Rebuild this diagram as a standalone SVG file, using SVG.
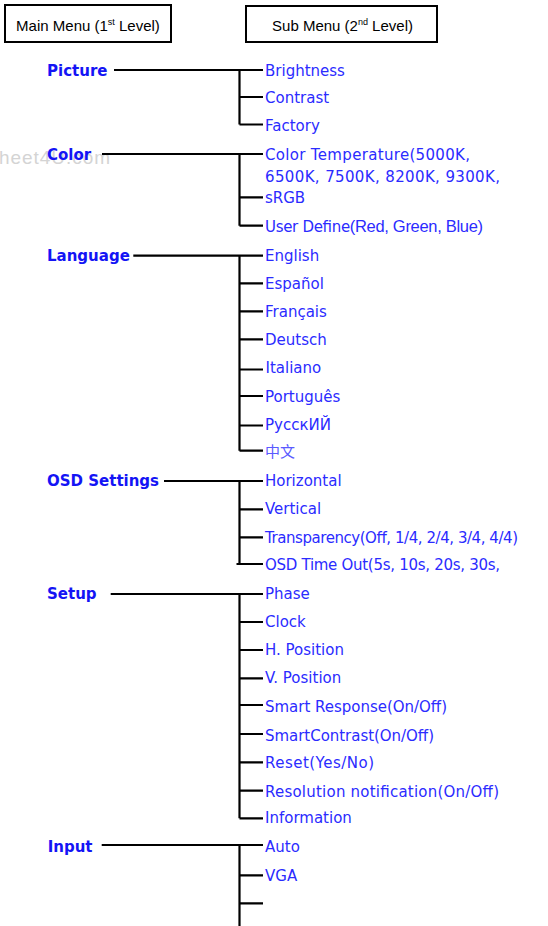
<svg xmlns="http://www.w3.org/2000/svg" width="548" height="926" viewBox="0 0 548 926">
<style>
.hdr{fill:#fff;stroke:#000;stroke-width:2}
.ht{font-family:"Liberation Sans",Arial,sans-serif;font-size:15px;fill:#000;text-anchor:middle}
.sup{font-size:9px}
.main{font-family:"DejaVu Sans",Verdana,sans-serif;font-weight:bold;font-size:15px;fill:#1414f5}
.item{font-family:"DejaVu Sans",Verdana,sans-serif;font-size:15px;fill:#2b2bff}
.ar{font-family:"Liberation Sans",Arial,sans-serif;font-size:16.5px}
.cjk{font-family:"Noto Sans CJK SC",sans-serif;font-size:15px;fill:#5a5aff}
.wm{font-family:"Liberation Sans",Arial,sans-serif;font-size:19px;fill:#d4d4d4}
.ln{stroke:#000;stroke-width:2.2;fill:none}
</style>
<text class="wm" x="-1" y="163.5" textLength="111">heet4U.com</text>
<g id="header-main"><rect class="hdr" x="5" y="5" width="166" height="37"/><text class="ht" x="88" y="30.5">Main Menu (1<tspan class="sup" dy="-6">st</tspan><tspan dy="6"> Level)</tspan></text></g>
<g id="header-sub"><rect class="hdr" x="246" y="6" width="191" height="36"/><text class="ht" x="342.5" y="30.5">Sub Menu (2<tspan class="sup" dy="-6">nd</tspan><tspan dy="6"> Level)</tspan></text></g>
<g id="connectors">
<path class="ln" d="M114 70H263M239.5 70V124.5M239.5 97H263M239.5 124.5H263"/>
<path class="ln" d="M102 154H263M239.5 154V225.7M239.5 197.3H263M239.5 225.7H263"/>
<path class="ln" d="M133.3 255.7H263M239.5 255.7V450.7M239.5 283.3H263M239.5 311.3H263M239.5 339.3H263M239.5 369.5H263M239.5 396H263M239.5 425.5H263M239.5 450.7H263"/>
<path class="ln" d="M164 481H263M239.5 481V564M239.5 509.3H263M239.5 537.3H263M236.5 564H263"/>
<path class="ln" d="M110.7 594H263M239.5 594V818.3M239.5 622H263M239.5 650H263M239.5 678.3H263M239.5 705H263M239.5 734H263M239.5 762.3H263M239.5 790.7H263M239.5 818.3H263"/>
<path class="ln" d="M101.7 845H263M239.5 845V926M239.5 875.3H263M239.5 903.3H263"/>
</g>
<g id="picture"><text class="main" x="47" y="75.5">Picture</text>
<text class="item" x="265" y="75.5">Brightness</text>
<text class="item" x="265" y="103">Contrast</text>
<text class="item" x="265" y="130.5">Factory</text></g>
<g id="color"><text class="main" x="47" y="159.5">Color</text>
<text class="item" x="265" y="159.5" textLength="205">Color Temperature(5000K,</text>
<text class="item" x="265" y="181.7" textLength="235">6500K, 7500K, 8200K, 9300K,</text>
<text class="item" x="265" y="203.3">sRGB</text>
<text class="item" x="265" y="232" textLength="218">User Define<tspan class="ar">(Red, Green, Blue)</tspan></text></g>
<g id="language"><text class="main" x="47" y="261">Language</text>
<text class="item" x="265" y="261">English</text>
<text class="item" x="265" y="289">Español</text>
<text class="item" x="265" y="316.7">Français</text>
<text class="item" x="265" y="345">Deutsch</text>
<text class="item" x="265.5" y="373.3">Italiano</text>
<text class="item" x="265" y="401.7">Português</text>
<text class="item" x="265" y="430">РусскИЙ</text>
<text class="cjk" x="265" y="457">中文</text></g>
<g id="osd"><text class="main" x="47" y="486">OSD Settings</text>
<text class="item" x="265" y="486">Horizontal</text>
<text class="item" x="265" y="514.3">Vertical</text>
<text class="item" x="265" y="543" textLength="253">Transparency(Off, 1/4, 2/4, 3/4, 4/4)</text>
<text class="item" x="265" y="570" textLength="235">OSD Time Out(5s, 10s, 20s, 30s,</text></g>
<g id="setup"><text class="main" x="47" y="599">Setup</text>
<text class="item" x="265" y="599">Phase</text>
<text class="item" x="265" y="627">Clock</text>
<text class="item" x="265" y="655">H. Position</text>
<text class="item" x="265" y="683.3">V. Position</text>
<text class="item" x="265" y="711.5" textLength="182">Smart Response(On/Off)</text>
<text class="item" x="265" y="740.5" textLength="169">SmartContrast(On/Off)</text>
<text class="item" x="265" y="768.3" textLength="109">Reset(Yes/No)</text>
<text class="item" x="265" y="796.7" textLength="234">Resolution notification(On/Off)</text>
<text class="item" x="265" y="823.3">Information</text></g>
<g id="input"><text class="main" x="47.7" y="851.5">Input</text>
<text class="item" x="265" y="851.5">Auto</text>
<text class="item" x="265" y="880.7">VGA</text></g>
</svg>
